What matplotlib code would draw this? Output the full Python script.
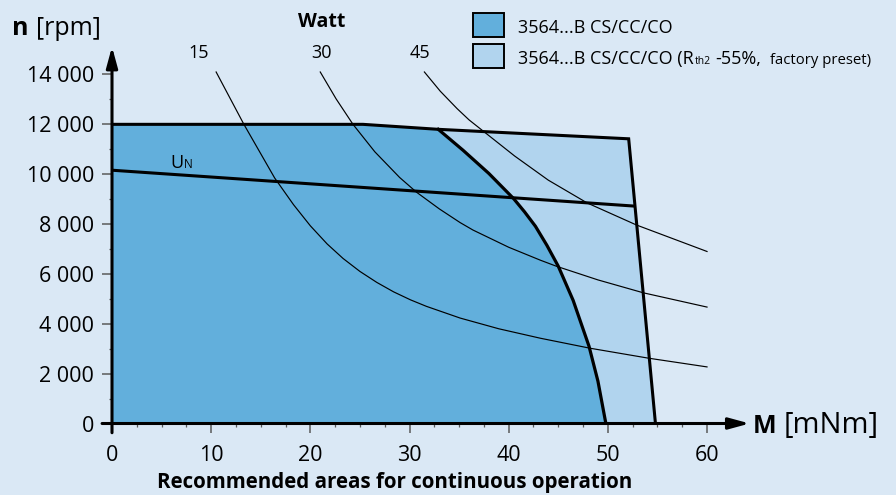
import matplotlib
matplotlib.use('Agg')
import matplotlib.pyplot as plt
from matplotlib.patches import Rectangle
from matplotlib.ticker import FixedLocator, FuncFormatter

plt.rcParams['font.family'] = ['Open Sans', 'DejaVu Sans']

# ---------------- data ----------------
# outer (light) operating area, Rth2 -55 %
M_outer = [0, 25.3, 32.9, 52.1, 54.8]
n_outer = [12000, 12000, 11800, 11420, 0]
# inner (dark) area boundary curve
M_cont = [32.9, 35.4, 38.0, 40.5, 41.6, 42.7, 43.85, 45.0, 46.5, 48.1, 49.0, 49.8]
n_cont = [11800, 10960, 10030, 9020, 8490, 7910, 7150, 6310, 4940, 3100, 1700, 0]
# nominal voltage line
M_un = [0, 52.7]
n_un = [10160, 8720]
# constant power curves
M_15 = [10.5, 13.3, 16.4, 18.3, 20.0, 21.7, 23.3, 25.0, 26.7, 28.4, 30.1, 31.7, 35.1, 39.0, 43.2, 48.2, 54.1, 60.0]
n_15 = [14100, 12000, 9850, 8780, 7930, 7200, 6620, 6100, 5660, 5280, 4960, 4700, 4230, 3800, 3420, 3020, 2620, 2270]
M_30 = [21.0, 22.6, 24.3, 26.5, 29.0, 30.7, 33.0, 35.1, 36.4, 40.0, 43.2, 44.8, 49.0, 53.6, 60.0]
n_30 = [14100, 13020, 12000, 10900, 9870, 9280, 8610, 8060, 7760, 7070, 6550, 6310, 5760, 5240, 4670]
M_45 = [31.5, 33.1, 34.8, 36.0, 37.3, 40.6, 44.0, 47.9, 52.9, 60.0]
n_45 = [14100, 13330, 12630, 12180, 11770, 10730, 9760, 8850, 7960, 6900]
power_labels = ['15', '30', '45']
x_ticks = [0, 10, 20, 30, 40, 50, 60]
y_ticks = [0, 2000, 4000, 6000, 8000, 10000, 12000, 14000]
legend_1 = '3564...B CS/CC/CO'
legend_2 = '3564...B CS/CC/CO (R'

# ---------------- style ----------------
BG = '#DAE8F5'
DARK = '#62AFDC'
LIGHT = '#B1D4EE'
GRAY = '#5a5a5a'
W, H = 896, 495
X0, SX = 112, 9.917          # px of M=0, px per mNm
Y0, SY = 423.5, 24.93 / 1000  # px of n=0, px per rpm
XMAX, YMAX = 66, 15300

fig = plt.figure(figsize=(W / 100, H / 100), dpi=100, facecolor=BG)
ax = fig.add_axes([X0 / W, (H - Y0) / H, XMAX * SX / W, YMAX * SY / H])
ax.set_facecolor('none')
ax.set_xlim(0, XMAX)
ax.set_ylim(0, YMAX)
for s in ax.spines.values():
    s.set_visible(False)

# areas
ax.fill(M_outer + [0], n_outer + [0], color=LIGHT, lw=0, zorder=1)
ax.fill(M_outer[:2] + M_cont + [0], n_outer[:2] + n_cont + [0], color=DARK, lw=0, zorder=2)

# power curves
for m, n in [(M_15, n_15), (M_30, n_30), (M_45, n_45)]:
    ax.plot(m, n, color='black', lw=0.85, zorder=3, clip_on=False)

# boundaries
ax.plot(M_outer, n_outer, color='black', lw=2.2, zorder=4, solid_joinstyle='miter')
ax.plot(M_cont, n_cont, color='black', lw=2.3, zorder=4)
ax.plot(M_un, n_un, color='black', lw=2.2, zorder=4, solid_capstyle='butt')

# axes with arrows
ap = dict(arrowstyle='-|>,head_length=1.25,head_width=0.34', lw=2.2, color='black',
          shrinkA=0, shrinkB=0)
ax.annotate('', xy=(0, 15114), xytext=(0, -370), arrowprops=ap, annotation_clip=False, zorder=6)
ax.annotate('', xy=(64.3, 0), xytext=(-1.0, 0), arrowprops=ap, annotation_clip=False, zorder=6)

# ticks
ax.xaxis.set_major_locator(FixedLocator(x_ticks))
ax.xaxis.set_minor_locator(FixedLocator([2.5 * k for k in range(1, 25) if k % 4]))
ax.yaxis.set_major_locator(FixedLocator(y_ticks))
ax.yaxis.set_minor_locator(FixedLocator(list(range(1000, 14000, 2000))))
ax.yaxis.set_major_formatter(FuncFormatter(lambda v, p: f'{int(v):,}'.replace(',', ' ')))
ax.xaxis.set_major_formatter(FuncFormatter(lambda v, p: f'{int(v)}'))
ax.tick_params(axis='y', which='major', direction='out', length=7.2, width=1.1, color=GRAY,
               labelsize=15.5, pad=5.8)
ax.tick_params(axis='x', which='major', direction='out', length=6.5, width=1.1, color=GRAY,
               labelsize=15.5, pad=9)
ax.tick_params(axis='both', which='minor', direction='out', length=2.3, width=0.9, color=GRAY)

# ---------------- texts ----------------
fig.canvas.draw()
renderer = fig.canvas.get_renderer()


def place(x_px, base_px, pieces):
    """pieces: (text, size, weight, gap_px_before)"""
    x = x_px
    for txt, size, weight, gap in pieces:
        x += gap
        t = fig.text(x / W, 1 - base_px / H, txt, fontsize=size, fontweight=weight,
                     ha='left', va='baseline')
        x += t.get_window_extent(renderer).width


place(12, 35, [('n', 18, 'bold', 0), ('[rpm]', 18, 'normal', 7)])
place(753, 433, [('M', 18, 'bold', 0), ('[mNm]', 21, 'normal', 7)])
fig.text(322 / W, 1 - 26.7 / H, 'Watt', fontsize=14, fontweight='bold', ha='center', va='baseline')
for lab, cx in zip(power_labels, [199, 321, 420]):
    fig.text(cx / W, 1 - 58.3 / H, lab, fontsize=13, ha='center', va='baseline')
place(170, 168, [('U', 13, 'normal', 0), ('N', 8.5, 'normal', 1)])
fig.text(394.5 / W, 1 - 488 / H, 'Recommended areas for continuous operation', fontsize=14.8,
         fontweight='bold', ha='center', va='baseline')

# legend
for y_top, col in [(13.3, DARK), (44.0, LIGHT)]:
    fig.add_artist(Rectangle((472.7 / W, 1 - (y_top + 24) / H), 31.3 / W, 24 / H,
                             transform=fig.transFigure, facecolor=col, edgecolor='black', lw=1.4))
place(518.3, 33.3, [(legend_1, 13, 'normal', 0)])
place(518.3, 64, [(legend_2, 13, 'normal', 0), ('th2', 7.5, 'normal', 1),
                  ('-55%,', 13, 'normal', 4), ('factory preset)', 10.7, 'normal', 9)])

fig.savefig('out.png', dpi=100, facecolor=BG)
